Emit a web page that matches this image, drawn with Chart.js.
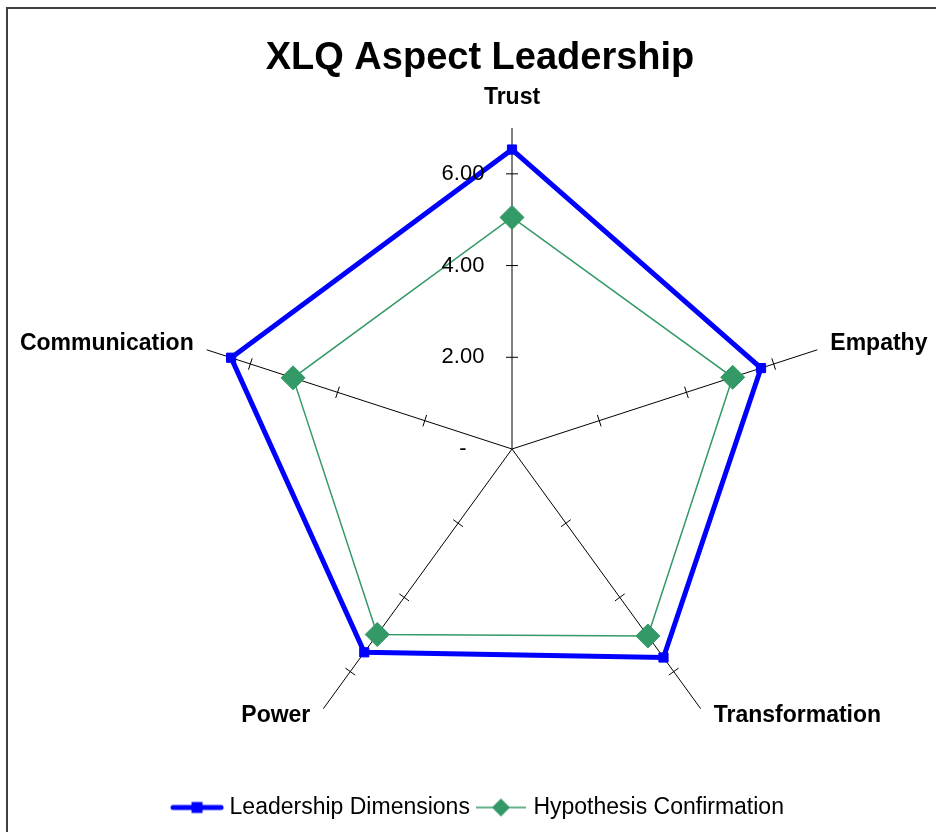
<!DOCTYPE html>
<html>
<head>
<meta charset="utf-8">
<title>XLQ Aspect Leadership</title>
<script src="https://cdn.jsdelivr.net/npm/chart.js@4.4.1/dist/chart.umd.min.js"></script>
<style>
  html, body { margin: 0; padding: 0; background: #fff; overflow: hidden; }
  #grafico { position: absolute; left: 0; top: 0; }
  /* moldura do Excel: só aparecem as bordas esquerda e superior */
  #moldura { position: absolute; left: 6px; top: 7px; width: 2000px; height: 2000px;
             border-left: 2px solid #404040; border-top: 2px solid #404040; pointer-events: none; }
</style>
</head>
<body>
<canvas id="grafico" width="936" height="832"></canvas>
<div id="moldura"></div>
<script>
// Dados do gráfico
const eixos = ['Trust', 'Empathy', 'Transformation', 'Power', 'Communication'];
const valoresLideranca = [6.53, 5.71, 5.62, 5.48, 6.44];
const valoresHipotese = [5.05, 5.06, 5.04, 5.00, 5.02];
const valoresEscala = [0, 2, 4, 6];
const rotulosEscala = ['-', '2.00', '4.00', '6.00'];
const marcasEscala = [2, 4, 6];

const fonteBase = "'Liberation Sans', Arial, sans-serif";

// Ícones da legenda (linha + marcador, como no Excel)
function criarIcone(largura, altura, desenhar) {
    const c = document.createElement('canvas');
    c.width = largura;
    c.height = altura;
    desenhar(c.getContext('2d'), largura, altura);
    return c;
}

const iconeLideranca = criarIcone(54, 16, (ctx, w, h) => {
    ctx.strokeStyle = '#0000ff';
    ctx.lineWidth = 5;
    ctx.lineCap = 'round';
    ctx.beginPath();
    ctx.moveTo(3, h / 2);
    ctx.lineTo(w - 3, h / 2);
    ctx.stroke();
    ctx.fillStyle = '#0000ff';
    ctx.fillRect(w / 2 - 5.5, h / 2 - 5.5, 11, 11);
});

const iconeHipotese = criarIcone(50, 20, (ctx, w, h) => {
    ctx.strokeStyle = '#339966';
    ctx.lineWidth = 1.5;
    ctx.beginPath();
    ctx.moveTo(0, h / 2);
    ctx.lineTo(w, h / 2);
    ctx.stroke();
    ctx.fillStyle = '#339966';
    ctx.beginPath();
    ctx.moveTo(w / 2, h / 2 - 9);
    ctx.lineTo(w / 2 + 9, h / 2);
    ctx.lineTo(w / 2, h / 2 + 9);
    ctx.lineTo(w / 2 - 9, h / 2);
    ctx.closePath();
    ctx.fill();
});

const iconesLegenda = [iconeLideranca, iconeHipotese];

// Marcas nos eixos, rótulos da escala e nomes dos eixos
const decoracaoEixos = {
    id: 'decoracaoEixos',
    beforeDatasetsDraw(chart) {
        const escala = chart.scales.r;
        const ctx = chart.ctx;
        ctx.save();
        ctx.strokeStyle = '#000';
        ctx.lineWidth = 1;
        eixos.forEach((_, i) => {
            const ang = escala.getIndexAngle(i);
            const px = Math.cos(ang), py = Math.sin(ang);
            marcasEscala.forEach(v => {
                const p = escala.getPointPositionForValue(i, v);
                ctx.beginPath();
                ctx.moveTo(p.x - px * 6, p.y - py * 6);
                ctx.lineTo(p.x + px * 6, p.y + py * 6);
                ctx.stroke();
            });
        });
        ctx.restore();
    },
    afterDraw(chart) {
        const escala = chart.scales.r;
        const ctx = chart.ctx;
        ctx.save();
        ctx.fillStyle = '#000';
        ctx.textBaseline = 'middle';

        // escala ao lado do eixo Trust
        ctx.font = '22px ' + fonteBase;
        ctx.textAlign = 'center';
        valoresEscala.forEach((v, k) => {
            const p = escala.getPointPositionForValue(0, v);
            ctx.fillText(rotulosEscala[k], p.x - 49, p.y);
        });

        // nomes dos eixos
        ctx.font = 'bold 23px ' + fonteBase;
        eixos.forEach((nome, i) => {
            const ang = escala.getIndexAngle(i);
            const s = Math.sin(ang), c = Math.cos(ang);
            if (Math.abs(s) < 0.01) {
                const p = escala.getPointPosition(i, escala.drawingArea + 30);
                ctx.textAlign = 'center';
                ctx.fillText(nome, p.x, p.y);
            } else {
                const p = escala.getPointPosition(i, escala.drawingArea);
                ctx.textAlign = s > 0 ? 'left' : 'right';
                ctx.fillText(nome, p.x + Math.sign(s) * 13, p.y - Math.sign(c) * 6.5);
            }
        });
        ctx.restore();
    }
};

const ctx = document.getElementById('grafico');
new Chart(ctx.getContext('2d'), {
    type: 'radar',
    data: {
        labels: eixos,
        datasets: [{
            label: 'Leadership Dimensions',
            data: valoresLideranca,
            borderColor: '#0000ff',
            backgroundColor: '#0000ff',
            borderWidth: 5,
            fill: false,
            tension: 0,
            pointStyle: 'rect',
            pointRadius: 6.5,
            pointBorderWidth: 1,
            pointBackgroundColor: '#0000ff',
            pointBorderColor: '#0000ff'
        }, {
            label: 'Hypothesis Confirmation',
            data: valoresHipotese,
            borderColor: '#339966',
            backgroundColor: '#339966',
            borderWidth: 1.5,
            fill: false,
            tension: 0,
            pointStyle: 'rectRot',
            pointRadius: 12,
            pointBorderWidth: 1,
            pointBackgroundColor: '#339966',
            pointBorderColor: '#339966'
        }]
    },
    options: {
        responsive: false,
        animation: false,
        events: [],
        layout: { padding: { left: 127, right: 103, top: 10, bottom: 3 } },
        scales: {
            r: {
                min: 0,
                max: 7,
                angleLines: { display: true, color: '#000', lineWidth: 1 },
                grid: { display: false },
                ticks: { display: false },
                pointLabels: { display: false }
            },
            // espaço vazio à esquerda: o radar fica deslocado em relação ao título e à legenda
            espaco: {
                type: 'linear',
                position: 'left',
                grid: { display: false },
                ticks: { display: false },
                border: { display: false },
                afterFit: (s) => { s.width = 64; }
            }
        },
        plugins: {
            title: {
                display: true,
                text: 'XLQ Aspect Leadership',
                color: '#000',
                font: { family: fonteBase, size: 38, weight: 'bold' },
                padding: { top: 25.7, bottom: 30.7 }
            },
            legend: {
                position: 'bottom',
                labels: {
                    usePointStyle: true,
                    pointStyleWidth: 42,
                    padding: 10,
                    color: '#000',
                    font: { family: fonteBase, size: 23 },
                    generateLabels(chart) {
                        const itens = Chart.defaults.plugins.legend.labels.generateLabels(chart);
                        itens.forEach((item, i) => { item.pointStyle = iconesLegenda[i]; });
                        return itens;
                    }
                }
            },
            tooltip: { enabled: false }
        }
    },
    plugins: [decoracaoEixos]
});
</script>
</body>
</html>
